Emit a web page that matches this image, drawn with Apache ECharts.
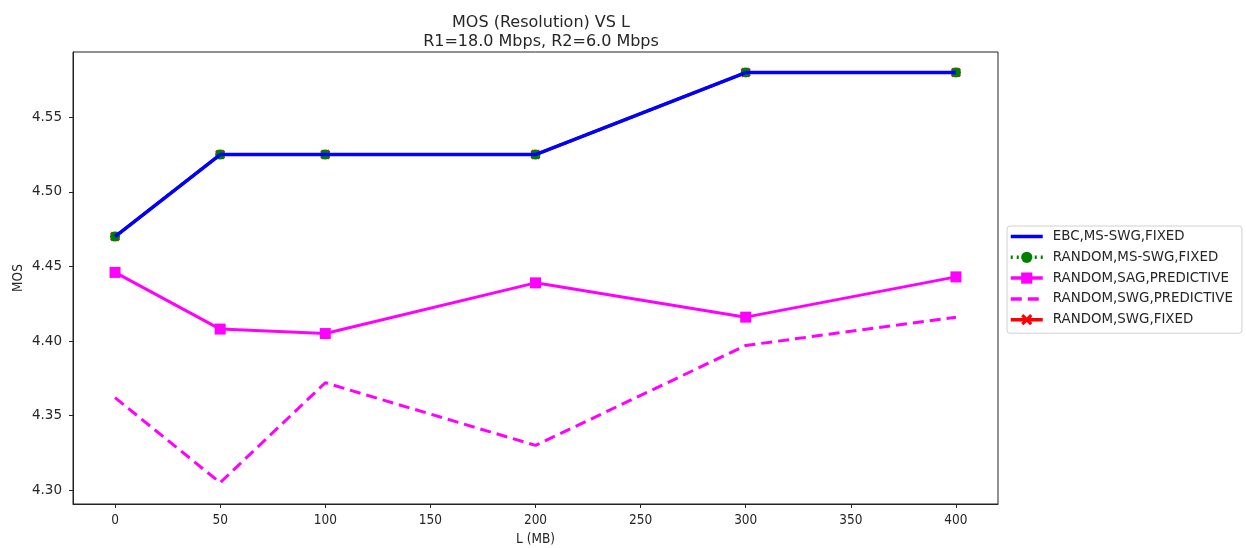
<!DOCTYPE html>
<html>
<head>
<meta charset="utf-8">
<script src="https://cdn.jsdelivr.net/npm/echarts@6/dist/echarts.min.js"></script>
<style>html,body{margin:0;padding:0;background:#fff}#c{width:1246px;height:548px}</style>
</head>
<body>
<div id="c"></div>
<script>
const xValues = [0, 50, 100, 200, 300, 400];
const ebcMsSwgFixed = [4.470, 4.525, 4.525, 4.525, 4.580, 4.580];
const randomMsSwgFixed = [4.470, 4.525, 4.525, 4.525, 4.580, 4.580];
const randomSagPredictive = [4.446, 4.408, 4.405, 4.439, 4.416, 4.443];
const randomSwgPredictive = [4.362, 4.305, 4.372, 4.330, 4.397, 4.416];
const randomSwgFixed = [4.470, 4.525, 4.525, 4.525, 4.580, 4.580];
const xTicks = [0, 50, 100, 150, 200, 250, 300, 350, 400];
const yTicks = [4.30, 4.35, 4.40, 4.45, 4.50, 4.55];
const seriesNames = ['EBC,MS-SWG,FIXED', 'RANDOM,MS-SWG,FIXED', 'RANDOM,SAG,PREDICTIVE', 'RANDOM,SWG,PREDICTIVE', 'RANDOM,SWG,FIXED'];

const pairs = arr => xValues.map((x, i) => [x, arr[i]]);
const font = 'DejaVu Sans';
const condFont = '"DejaVu Sans Condensed", "DejaVu Sans"';
const txt = '#262626';
const xMark = 'path://M0,2L2,0L5,3L8,0L10,2L7,5L10,8L8,10L5,7L2,10L0,8L3,5Z';

const chart = echarts.init(document.getElementById('c'), null, {renderer: 'canvas'});
chart.setOption({
  backgroundColor: '#fff',
  animation: false,
  textStyle: {fontFamily: font},
  title: {
    text: 'MOS (Resolution) VS L\nR1=18.0 Mbps, R2=6.0 Mbps',
    left: 536, top: 8, textAlign: 'center',
    textStyle: {fontFamily: font, fontSize: 16, fontWeight: 'normal', color: txt, lineHeight: 19.5}
  },
  grid: {left: 73, right: 248, top: 52, bottom: 44, outerBoundsMode: 'none', containLabel: false,
    show: true, borderColor: '#222', borderWidth: 1, backgroundColor: '#fff'},
  legend: {
    orient: 'vertical', left: 1007, top: 226,
    data: [
      {name: seriesNames[0], itemStyle: {color: 'rgba(0,0,0,0)', borderWidth: 0}},
      {name: seriesNames[1]},
      {name: seriesNames[2]},
      {name: seriesNames[3], itemStyle: {color: 'rgba(0,0,0,0)', borderWidth: 0}},
      {name: seriesNames[4]}
    ],
    itemWidth: 32, itemHeight: 14, itemGap: 7.8,
    padding: [4, 9, 7, 2],
    lineStyle: {width: 3.5},
    borderColor: '#d0d0d0', borderWidth: 1, borderRadius: 3, backgroundColor: '#fff',
    textStyle: {fontFamily: font, fontSize: 13.4, color: txt, padding: [0, 0, 0, 5]}
  },
  xAxis: {
    type: 'value', min: -20, max: 420,
    name: 'L (MB)', nameLocation: 'middle', nameGap: 28,
    nameTextStyle: {fontFamily: condFont, fontSize: 13.5, color: txt},
    axisLine: {show: true, onZero: false, lineStyle: {color: '#222'}},
    axisTick: {show: true, length: 4, customValues: xTicks, lineStyle: {color: '#222'}},
    axisLabel: {customValues: xTicks, fontFamily: condFont, fontSize: 13.5, color: txt, margin: 9},
    splitLine: {show: false}
  },
  yAxis: {
    type: 'value', min: 4.2907, max: 4.5938,
    name: 'MOS', nameLocation: 'middle', nameGap: 48, nameRotate: 90, nameMoveOverlap: false,
    nameTextStyle: {fontFamily: condFont, fontSize: 13.5, color: txt},
    axisLine: {show: true, onZero: false, lineStyle: {color: '#222'}},
    axisTick: {show: true, length: 4, customValues: yTicks, lineStyle: {color: '#222'}},
    axisLabel: {customValues: yTicks, formatter: v => v.toFixed(2), fontFamily: font, fontSize: 13.5, color: txt, margin: 11},
    splitLine: {show: false}
  },
  series: [
    {
      name: seriesNames[4], type: 'line', data: pairs(randomSwgFixed), z: 1,
      symbol: xMark, symbolSize: 10,
      lineStyle: {color: '#ff0000', width: 3}, itemStyle: {color: '#ff0000'}
    },
    {
      name: seriesNames[3], type: 'line', data: pairs(randomSwgPredictive), z: 2,
      symbol: 'circle', symbolSize: 0, showSymbol: false,
      lineStyle: {color: '#ff00ff', width: 3, type: [11, 6]}, itemStyle: {color: '#ff00ff'}
    },
    {
      name: seriesNames[2], type: 'line', data: pairs(randomSagPredictive), z: 3,
      symbol: 'rect', symbolSize: 11,
      lineStyle: {color: '#ff00ff', width: 3}, itemStyle: {color: '#ff00ff'}
    },
    {
      name: seriesNames[1], type: 'line', data: pairs(randomMsSwgFixed), z: 4,
      symbol: 'circle', symbolSize: 10,
      lineStyle: {color: '#008000', width: 3, type: [2, 4]}, itemStyle: {color: '#008000'}
    },
    {
      name: seriesNames[0], type: 'line', data: pairs(ebcMsSwgFixed), z: 5,
      symbol: 'circle', symbolSize: 0, showSymbol: false,
      lineStyle: {color: '#0000ff', width: 3.5}, itemStyle: {color: '#0000ff'}
    }
  ]
});
</script>
</body>
</html>
